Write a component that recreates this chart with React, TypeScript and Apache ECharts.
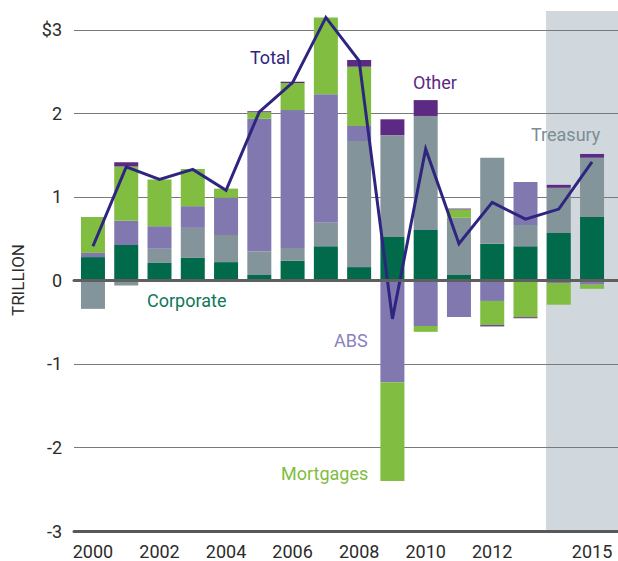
import React, { useEffect, useRef } from "react";
import * as echarts from "echarts";

const years = ["2000", "2001", "2002", "2003", "2004", "2005", "2006", "2007", "2008", "2009", "2010", "2011", "2012", "2013", "2014", "2015"];
const corporate = [0.28, 0.425, 0.21, 0.27, 0.22, 0.066, 0.235, 0.41, 0.16, 0.52, 0.605, 0.066, 0.44, 0.41, 0.57, 0.76];
const treasury = [-0.34, -0.06, 0.17, 0.36, 0.325, 0.28, 0.155, 0.28, 1.51, 1.22, 1.365, 0.685, 1.03, 0.255, 0.54, 0.71];
const abs = [0.05, 0.29, 0.27, 0.26, 0.445, 1.59, 1.65, 1.54, 0.18, -1.22, -0.545, -0.437, -0.245, 0.515, -0.03, -0.05];
const mortgages = [0.43, 0.65, 0.56, 0.445, 0.11, 0.08, 0.325, 0.92, 0.71, -1.18, -0.07, 0.1, -0.29, -0.44, -0.26, -0.05];
const other = [0, 0.05, 0, -0.015, 0, 0.01, 0.015, 0, 0.08, 0.19, 0.19, 0.01, -0.015, -0.012, 0.035, 0.045];
const total = [0.41, 1.36, 1.21, 1.33, 1.08, 2.02, 2.37, 3.15, 2.63, -0.46, 1.575, 0.44, 0.935, 0.735, 0.855, 1.42];
const xTickLabels = [2000, 2002, 2004, 2006, 2008, 2010, 2012, 2015];
const projectionStart = 2013.617;

const X_MIN = 1999.43;
const X_MAX = 2015.78;
const Y_MIN = -3;
const Y_MAX = 3.227;

const FONT = "Roboto, 'Noto Sans', sans-serif";

const COLORS = {
  corporate: "#006a4a",
  treasury: "#84949b",
  abs: "#8178b0",
  mortgages: "#80bd40",
  other: "#5c2a82",
  total: "#2e2580",
  shade: "#d0d7dd",
};

export default function App() {
  const ref = useRef<HTMLDivElement>(null);

  useEffect(() => {
    document.body.style.margin = "0";
    if (!ref.current) return;
    const chart = echarts.init(ref.current, undefined, { renderer: "svg" });

    const W = 618;
    const gridLeft = 74;
    const gridRight = 0;
    const pxPerYear = (W - gridLeft - gridRight) / (X_MAX - X_MIN);
    const barGridLeft = gridLeft + (Number(years[0]) - 0.5 - X_MIN) * pxPerYear;
    const barGridRight = W - (gridLeft + (Number(years[years.length - 1]) + 0.5 - X_MIN) * pxPerYear);

    const barSeries = (name: string, arr: number[], color: string) => ({
      name,
      type: "bar",
      stack: "flows",
      barWidth: 24,
      xAxisIndex: 2,
      yAxisIndex: 1,
      z: 2,
      itemStyle: { color },
      data: arr,
    });

    const option: any = {
      animation: false,
      textStyle: { fontFamily: FONT },
      grid: [
        { left: gridLeft, right: gridRight, top: 11, bottom: 30, containLabel: false },
        { left: barGridLeft, right: barGridRight, top: 11, bottom: 30, containLabel: false },
      ],
      xAxis: [
        {
          type: "value",
          gridIndex: 0,
          min: X_MIN,
          max: X_MAX,
          position: "bottom",
          z: 5,
          axisLine: { show: true, onZero: false, lineStyle: { color: "#585858", width: 3 } },
          axisTick: { show: false },
          splitLine: { show: false },
          axisLabel: {
            customValues: xTickLabels,
            formatter: (v: number) => String(v),
            color: "#2b2b2b",
            fontSize: 18,
            fontFamily: FONT,
            margin: 11,
          },
        },
        {
          type: "value",
          gridIndex: 0,
          min: X_MIN,
          max: X_MAX,
          position: "top",
          z: 5,
          axisLine: { show: true, onZero: true, lineStyle: { color: "#5f5f5f", width: 3 } },
          axisTick: { show: false },
          splitLine: { show: false },
          axisLabel: { show: false },
        },
        {
          type: "category",
          gridIndex: 1,
          data: years,
          show: false,
        },
      ],
      yAxis: [
        {
          type: "value",
          gridIndex: 0,
          min: Y_MIN,
          max: Y_MAX,
          interval: 1,
          z: 1,
          axisLine: { show: false },
          axisTick: { show: false },
          splitLine: {
            show: true,
            showMinLine: false,
            showMaxLine: false,
            lineStyle: { color: "#7a7a7a", width: 1 },
          },
          axisLabel: {
            color: "#2b2b2b",
            fontSize: 18,
            fontFamily: FONT,
            margin: 12,
            verticalAlign: "middle",
            padding: [0, 0, 12, 0],
            formatter: (v: number) => {
              if (Math.abs(v - Math.round(v)) > 1e-6) return "";
              if (v === 3) return "$3";
              return String(v);
            },
          },
        },
        {
          type: "value",
          gridIndex: 1,
          min: Y_MIN,
          max: Y_MAX,
          show: false,
          splitLine: { show: false },
        },
      ],
      series: [
        barSeries("Corporate", corporate, COLORS.corporate),
        barSeries("Treasury", treasury, COLORS.treasury),
        barSeries("ABS", abs, COLORS.abs),
        barSeries("Mortgages", mortgages, COLORS.mortgages),
        barSeries("Other", other, COLORS.other),
        {
          name: "Total",
          type: "line",
          xAxisIndex: 0,
          yAxisIndex: 0,
          z: 4,
          data: years.map((y, i) => [Number(y), total[i]]),
          symbol: "none",
          lineStyle: { color: COLORS.total, width: 3, join: "miter" },
          markArea: {
            silent: true,
            z: 0,
            itemStyle: { color: COLORS.shade },
            data: [[{ xAxis: projectionStart, yAxis: Y_MIN }, { xAxis: X_MAX, yAxis: Y_MAX }]],
          },
        },
      ],
      graphic: [
        {
          type: "text",
          x: 18,
          y: 280,
          z: 10,
          rotation: Math.PI / 2,
          style: {
            text: "TRILLION",
            fill: "#2b2b2b",
            font: `17px ${FONT}`,
            align: "center",
            verticalAlign: "middle",
          },
        },
        { type: "text", x: 250, y: 57, z: 10, style: { text: "Total", fill: COLORS.total, font: `18px ${FONT}`, verticalAlign: "middle" } },
        { type: "text", x: 413, y: 82, z: 10, style: { text: "Other", fill: COLORS.other, font: `18px ${FONT}`, verticalAlign: "middle" } },
        { type: "text", x: 531, y: 134, z: 10, style: { text: "Treasury", fill: "#7d8d94", font: `18px ${FONT}`, verticalAlign: "middle" } },
        { type: "text", x: 147, y: 300, z: 10, style: { text: "Corporate", fill: "#10785a", font: `18px ${FONT}`, verticalAlign: "middle" } },
        { type: "text", x: 334, y: 340, z: 10, style: { text: "ABS", fill: "#8a80bf", font: `18px ${FONT}`, verticalAlign: "middle" } },
        { type: "text", x: 281, y: 473, z: 10, style: { text: "Mortgages", fill: COLORS.mortgages, font: `18px ${FONT}`, verticalAlign: "middle" } },
      ],
    };

    chart.setOption(option);
    return () => chart.dispose();
  }, []);

  return <div ref={ref} style={{ width: 618, height: 561 }} />;
}
